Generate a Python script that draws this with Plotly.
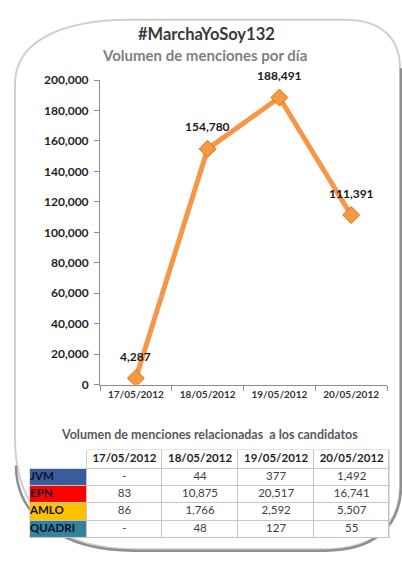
import plotly.graph_objects as go

# ---------------- data ----------------
dates = ["17/05/2012", "18/05/2012", "19/05/2012", "20/05/2012"]
mentions = [4287, 154780, 188491, 111391]
y_ticks = [0, 20000, 40000, 60000, 80000, 100000, 120000, 140000, 160000, 180000, 200000]

candidates = ["JVM", "EPN", "AMLO", "QUADRI"]
cand_colors = ["#3B5C9A", "#FF0000", "#FFC000", "#31849B"]
jvm = [None, 44, 377, 1492]
epn = [83, 10875, 20517, 16741]
amlo = [86, 1766, 2592, 5507]
quadri = [None, 48, 127, 55]

title = "#MarchaYoSoy132"
subtitle = "Volumen de menciones por día"
table_title = "Volumen de menciones relacionadas  a los candidatos"

W, H = 402, 563
FONT = "Lato"

# table layout (pixel sizes)
col_edges = [0, 57, 133, 209, 286, 361]
row_edges = [0, 20, 37.5, 55.5, 74, 92]
TBL_X0, TBL_Y0 = 29, 453


def px(x):
    return x / W


def py(y):
    return 1 - y / H


def fmt(v):
    return "-" if v is None else f"{v:,}"


fig = go.Figure()

# ---------------- line chart ----------------
fig.add_trace(go.Scatter(
    x=dates, y=mentions, mode="lines+markers",
    line=dict(color="#F79646", width=5),
    marker=dict(symbol="diamond", size=13, color="#F39A45",
                line=dict(color="#E46C0A", width=1)),
    hoverinfo="skip", showlegend=False,
))

for d, v in zip(dates, mentions):
    fig.add_annotation(x=d, y=v, text=f"<b>{v:,}</b>", showarrow=False,
                       yshift=22, yanchor="middle",
                       font=dict(family=FONT, size=12, color="#1a1a1a"))

# ---------------- table (heatmap cells on a second subplot) ----------------
rows = [jvm, epn, amlo, quadri]
n_rows = len(rows) + 1
n_cols = len(dates) + 1
z = [[0] * n_cols]
for i in range(len(rows)):
    z.append([i + 1] + [0] * len(dates))

cs = [[0, "white"], [0.125, "white"]]
for i, c in enumerate(cand_colors):
    lo = 0.125 + 0.25 * i
    hi = min(1, lo + 0.25)
    cs += [[lo, c], [hi, c]]

fig.add_trace(go.Heatmap(
    x=col_edges, y=row_edges, z=z, zmin=0, zmax=len(cand_colors),
    colorscale=cs, showscale=False, xgap=1, ygap=1,
    hoverinfo="skip", xaxis="x2", yaxis="y2",
))

col_c = [(col_edges[i] + col_edges[i + 1]) / 2 for i in range(n_cols)]
row_c = [(row_edges[i] + row_edges[i + 1]) / 2 for i in range(n_rows)]

fig.add_trace(go.Scatter(
    x=col_c[1:], y=[row_c[0]] * len(dates), mode="text",
    text=[f"<b>{d}</b>" for d in dates], textposition="middle center",
    textfont=dict(family=FONT, size=11.5, color="#1f1f1f"),
    hoverinfo="skip", showlegend=False, xaxis="x2", yaxis="y2",
))
fig.add_trace(go.Scatter(
    x=[col_edges[0]] * len(candidates), y=row_c[1:], mode="text",
    text=[f"<b>{c}</b>" for c in candidates], textposition="middle right",
    textfont=dict(family=FONT, size=11.5, color="#0f0f2a"),
    hoverinfo="skip", showlegend=False, xaxis="x2", yaxis="y2",
))
for j in range(len(dates)):
    fig.add_trace(go.Scatter(
        x=[col_c[j + 1]] * len(rows), y=row_c[1:], mode="text",
        text=[fmt(r[j]) for r in rows], textposition="middle center",
        textfont=dict(family=FONT, size=11.5, color="#404040"),
        hoverinfo="skip", showlegend=False, xaxis="x2", yaxis="y2",
    ))

# border background for the table (gaps between heatmap cells show it)
GRID = "#C4C4C4"
fig.add_shape(type="rect", xref="x2", yref="y2", layer="below",
              x0=col_edges[1] - 0.5, x1=col_edges[-1] + 0.5,
              y0=row_edges[0] - 0.5, y1=row_edges[1],
              fillcolor=GRID, line=dict(width=0))
fig.add_shape(type="rect", xref="x2", yref="y2", layer="below",
              x0=col_edges[0] - 0.5, x1=col_edges[-1] + 0.5,
              y0=row_edges[1] - 0.5, y1=row_edges[-1] + 0.5,
              fillcolor=GRID, line=dict(width=0))

# ---------------- titles ----------------
fig.add_annotation(x=px(206), y=py(27), xref="paper", yref="paper", text=f"<b>{title}</b>",
                   showarrow=False, yanchor="middle",
                   font=dict(family=FONT, size=16.5, color="#3a3a3a"))
fig.add_annotation(x=px(204), y=py(48), xref="paper", yref="paper", text=f"<b>{subtitle}</b>",
                   showarrow=False, yanchor="middle",
                   font=dict(family=FONT, size=15, color="#808080"))
fig.add_annotation(x=px(209), y=py(438), xref="paper", yref="paper", text=f"<b>{table_title}</b>",
                   showarrow=False, yanchor="middle",
                   font=dict(family=FONT, size=12.5, color="#595959"))


# ---------------- rounded border ----------------
def P(x, y):
    return f"{px(x):.5f},{py(y):.5f}"


border = (f"M {P(15, 78)} L {P(15, 442)} C {P(15, 520)} {P(60, 556)} {P(135, 556)} "
          f"L {P(325, 556)} C {P(370, 556)} {P(400, 535)} {P(400, 490)} "
          f"L {P(400, 62)} C {P(400, 30)} {P(380, 12)} {P(345, 12)} "
          f"L {P(130, 12)} C {P(60, 12)} {P(15, 35)} {P(15, 78)} Z")
shadow = (f"M {P(401, 62)} L {P(401, 490)} C {P(401, 536)} {P(371, 557.5)} {P(325, 557.5)} "
          f"L {P(135, 557.5)} C {P(60, 557.5)} {P(16, 521)} {P(16, 470)}")
fig.add_shape(type="path", path=border, xref="paper", yref="paper",
              line=dict(color="#CFCFCF", width=2), layer="below")
fig.add_shape(type="path", path=shadow, xref="paper", yref="paper",
              line=dict(color="#8F8F8F", width=2.5), layer="below")

fig.update_layout(
    width=W, height=H, autosize=False,
    margin=dict(l=0, r=0, t=0, b=0),
    paper_bgcolor="white", plot_bgcolor="rgba(0,0,0,0)",
    xaxis=dict(domain=[px(100), px(387)], type="category", range=[-0.5, 3.5],
               showline=True, linecolor="#8C8C8C", linewidth=1,
               ticks="outside", tickson="boundaries", ticklen=5, tickcolor="#8C8C8C",
               showgrid=False, zeroline=False, fixedrange=True,
               tickfont=dict(family=FONT, size=10, color="#333333", weight="bold")),
    yaxis=dict(domain=[py(387), py(74)], range=[0, 200000], tickvals=y_ticks,
               tickformat=",d", fixedrange=True,
               showline=True, linecolor="#8C8C8C", linewidth=1,
               ticks="outside", ticklen=5, tickcolor="#8C8C8C", ticklabelstandoff=3,
               showgrid=False, zeroline=False,
               tickfont=dict(family=FONT, size=12, color="#1f1f1f", weight="bold")),
    xaxis2=dict(domain=[px(TBL_X0), px(TBL_X0 + col_edges[-1])], range=[col_edges[0] - 1, col_edges[-1] + 1],
                visible=False, fixedrange=True, anchor="y2"),
    yaxis2=dict(domain=[py(TBL_Y0 + row_edges[-1]), py(TBL_Y0)],
                range=[row_edges[-1] + 1, row_edges[0] - 1],
                visible=False, fixedrange=True, anchor="x2"),
)

fig.write_html("out.html", config={"displayModeBar": False},
               post_script="document.body.style.margin='0';")
